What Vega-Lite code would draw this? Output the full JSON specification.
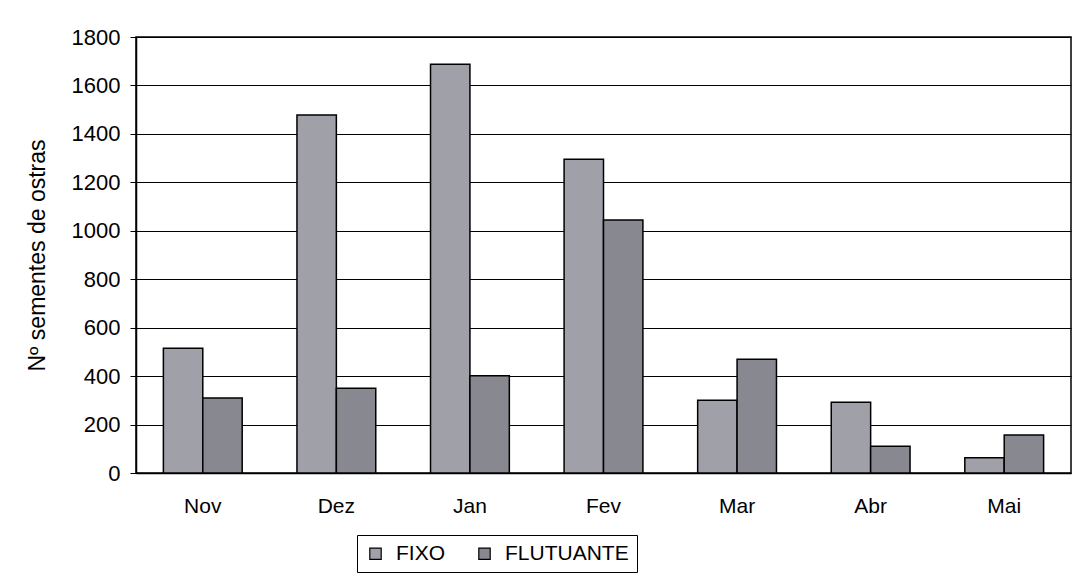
{
  "$schema": "https://vega.github.io/schema/vega-lite/v6.json",
  "width": 935,
  "height": 436,
  "autosize": {"type": "none"},
  "padding": {"left": 136, "top": 37, "right": 8, "bottom": 111},
  "background": "white",
  "config": {
    "font": "Liberation Sans",
    "view": {"stroke": "black", "strokeWidth": 1.5}
  },
  "data": {
    "values": [
      {"mes": "Nov", "tipo": "FIXO", "valor": 515},
      {"mes": "Nov", "tipo": "FLUTUANTE", "valor": 310},
      {"mes": "Dez", "tipo": "FIXO", "valor": 1478},
      {"mes": "Dez", "tipo": "FLUTUANTE", "valor": 350},
      {"mes": "Jan", "tipo": "FIXO", "valor": 1688},
      {"mes": "Jan", "tipo": "FLUTUANTE", "valor": 402},
      {"mes": "Fev", "tipo": "FIXO", "valor": 1295},
      {"mes": "Fev", "tipo": "FLUTUANTE", "valor": 1045},
      {"mes": "Mar", "tipo": "FIXO", "valor": 300},
      {"mes": "Mar", "tipo": "FLUTUANTE", "valor": 470},
      {"mes": "Abr", "tipo": "FIXO", "valor": 292},
      {"mes": "Abr", "tipo": "FLUTUANTE", "valor": 110},
      {"mes": "Mai", "tipo": "FIXO", "valor": 63},
      {"mes": "Mai", "tipo": "FLUTUANTE", "valor": 157}
    ]
  },
  "mark": {"type": "bar", "stroke": "black", "strokeWidth": 1.5},
  "encoding": {
    "x": {
      "field": "mes",
      "type": "nominal",
      "sort": ["Nov", "Dez", "Jan", "Fev", "Mar", "Abr", "Mai"],
      "scale": {"paddingInner": 0.41, "paddingOuter": 0.205},
      "axis": {
        "title": null,
        "labelAngle": 0,
        "labelFontSize": 21,
        "labelColor": "black",
        "labelPadding": 22,
        "ticks": false,
        "domainColor": "black",
        "domainWidth": 1.5,
        "grid": false
      }
    },
    "xOffset": {"field": "tipo", "type": "nominal", "sort": ["FIXO", "FLUTUANTE"], "scale": {"paddingInner": 0, "paddingOuter": 0}},
    "y": {
      "field": "valor",
      "type": "quantitative",
      "scale": {"domain": [0, 1800], "nice": false},
      "axis": {
        "title": "Nº sementes de ostras",
        "titleFontSize": 23,
        "titleFontWeight": "normal",
        "titleColor": "black",
        "titlePadding": 22,
        "format": "d",
        "values": [0, 200, 400, 600, 800, 1000, 1200, 1400, 1600, 1800],
        "labelFontSize": 22,
        "labelColor": "black",
        "labelPadding": 10,
        "tickSize": 6,
        "tickColor": "black",
        "domainColor": "black",
        "domainWidth": 1.5,
        "gridColor": "black",
        "gridWidth": 1.2,
        "gridOpacity": 1
      }
    },
    "color": {
      "field": "tipo",
      "type": "nominal",
      "sort": ["FIXO", "FLUTUANTE"],
      "scale": {"domain": ["FIXO", "FLUTUANTE"], "range": ["#a0a0a8", "#888891"]},
      "legend": {
        "title": null,
        "orient": "none",
        "direction": "horizontal",
        "legendX": 221,
        "legendY": 498,
        "padding": 8,
        "strokeColor": "black",
        "fillColor": "white",
        "labelFontSize": 21,
        "labelColor": "black",
        "symbolType": "square",
        "symbolSize": 130,
        "symbolStrokeColor": "black",
        "symbolStrokeWidth": 1.2,
        "symbolOpacity": 1,
        "columnPadding": 28,
        "labelOffset": 10
      }
    }
  }
}
